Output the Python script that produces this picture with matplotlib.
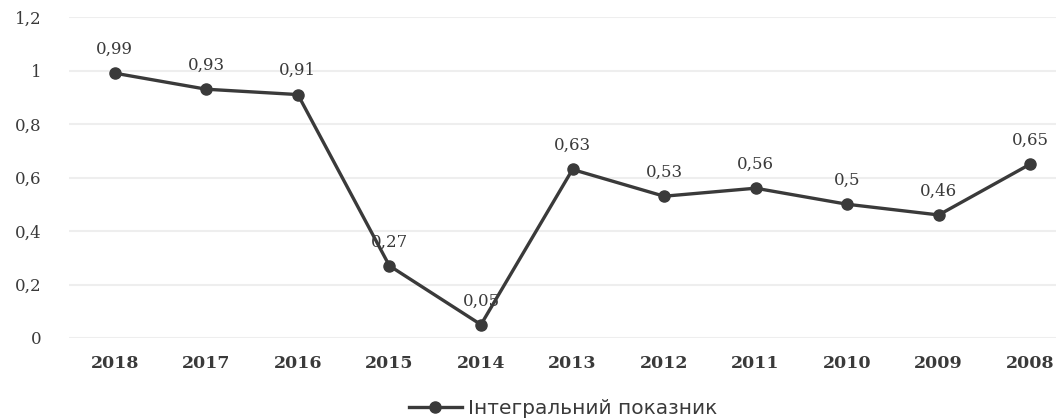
import matplotlib
matplotlib.use("Agg")
import matplotlib.pyplot as plt

years = ["2018", "2017", "2016", "2015", "2014", "2013", "2012", "2011", "2010", "2009", "2008"]
values = [0.99, 0.93, 0.91, 0.27, 0.05, 0.63, 0.53, 0.56, 0.50, 0.46, 0.65]
value_labels = ["0,99", "0,93", "0,91", "0,27", "0,05", "0,63", "0,53", "0,56", "0,5", "0,46", "0,65"]
y_ticks = [0, 0.2, 0.4, 0.6, 0.8, 1.0, 1.2]
y_tick_labels = ["0", "0,2", "0,4", "0,6", "0,8", "1", "1,2"]
series_name = "Інтегральний показник"

W, H = 1056, 420
fig = plt.figure(figsize=(W / 100, H / 100), dpi=100)
left = 69 / W
right = 1076 / W
bottom = (H - 338) / H
top = (H - 17) / H
ax = fig.add_axes([left, bottom, right - left, top - bottom])

x = list(range(len(years)))
line, = ax.plot(x, values, color="#3a3a3a", lw=2.4, marker="o", ms=8,
                markerfacecolor="#3a3a3a", markeredgecolor="#3a3a3a", zorder=3,
                label=series_name)

serif = "DejaVu Serif"
for xi, v, lab in zip(x, values, value_labels):
    ax.annotate(lab, (xi, v), xytext=(0, 11), textcoords="offset points",
                ha="center", va="bottom", fontsize=12, family=serif,
                color="#3a3a3a", zorder=4)

ax.set_xlim(-0.5, len(years) - 0.5)
ax.set_ylim(0, 1.2)
ax.set_yticks(y_ticks)
ax.set_yticklabels(y_tick_labels, family=serif, fontsize=12, color="#3a3a3a")
ax.set_xticks(x)
ax.set_xticklabels(years, family=serif, fontsize=12.5, color="#3a3a3a", fontweight="bold")
ax.tick_params(axis="both", length=0)
ax.tick_params(axis="y", pad=20)
ax.tick_params(axis="x", pad=12)
ax.grid(axis="y", color="#eeeeee", lw=1.5)
ax.set_axisbelow(True)
for s in ax.spines.values():
    s.set_visible(False)

fig.legend(handles=[line], labels=[series_name], loc="center",
           bbox_to_anchor=(563 / W, 1 - 409 / H), frameon=False,
           prop={"family": "DejaVu Sans", "size": 14.5}, handlelength=2.6,
           handletextpad=0.3, labelcolor="#3a3a3a")

fig.savefig("out.png", dpi=100)
